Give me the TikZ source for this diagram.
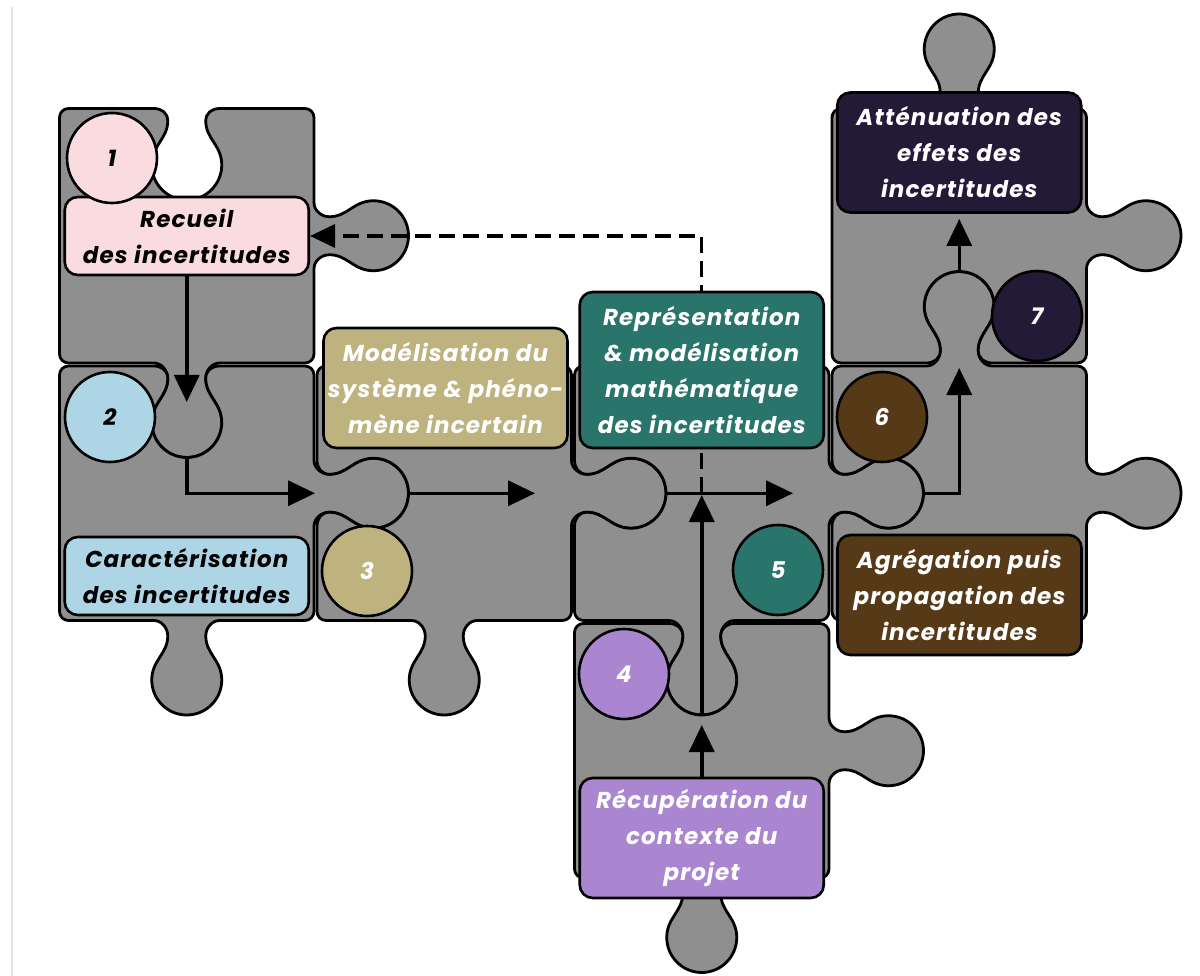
\documentclass[tikz,border=0pt]{standalone}
\usepackage{fontspec}
\setmainfont{Poppins}[LetterSpace=5]
\usepackage{tikz}
\usetikzlibrary{positioning,calc}
\usetikzlibrary{arrows.meta}

\definecolor{piecegray}{RGB}{143,143,143}
\definecolor{framegray}{RGB}{230,230,230}
\definecolor{recpink}{RGB}{249,219,224}
\definecolor{carblue}{RGB}{173,213,230}
\definecolor{modkhaki}{RGB}{190,178,126}
\definecolor{repteal}{RGB}{42,117,107}
\definecolor{recpurple}{RGB}{170,133,208}
\definecolor{agrbrown}{RGB}{86,58,24}
\definecolor{attnavy}{RGB}{35,26,56}

\begin{document}
\begin{tikzpicture}[x=1pt, y=-1pt,
      piece/.style={fill=piecegray, draw=black, line width=2.8pt,
        rounded corners=9pt, line join=round},
      % tab (+1) or blank (-1) on an edge: centre, edge direction, sign
      knob/.style n args={5}{insert path={
          [sharp corners]
          -- ({#1+(#3)*(-33)-(#4)*1.5},{#2+(#4)*(-33)+(#3)*1.5})
          .. controls ({#1+(#3)*(-25)-(#4)*1.5},{#2+(#4)*(-25)+(#3)*1.5})
          and ({#1+(#3)*(-19)+(#4)*(#5)*6},{#2+(#4)*(-19)-(#3)*(#5)*6})
          .. ({#1+(#3)*(-19)+(#4)*(#5)*14},{#2+(#4)*(-19)-(#3)*(#5)*14})
          .. controls ({#1+(#3)*(-19)+(#4)*(#5)*32},{#2+(#4)*(-19)-(#3)*(#5)*32})
          and ({#1+(#3)*(-35)+(#4)*(#5)*38},{#2+(#4)*(-35)-(#3)*(#5)*38})
          .. ({#1+(#3)*(-35)+(#4)*(#5)*58},{#2+(#4)*(-35)-(#3)*(#5)*58})
          .. controls ({#1+(#3)*(-35)+(#4)*(#5)*77.3},{#2+(#4)*(-35)-(#3)*(#5)*77.3})
          and ({#1+(#3)*(-19.3)+(#4)*(#5)*93},{#2+(#4)*(-19.3)-(#3)*(#5)*93})
          .. ({#1+(#4)*(#5)*93},{#2-(#3)*(#5)*93})
          .. controls ({#1+(#3)*19.3+(#4)*(#5)*93},{#2+(#4)*19.3-(#3)*(#5)*93})
          and ({#1+(#3)*35+(#4)*(#5)*77.3},{#2+(#4)*35-(#3)*(#5)*77.3})
          .. ({#1+(#3)*35+(#4)*(#5)*58},{#2+(#4)*35-(#3)*(#5)*58})
          .. controls ({#1+(#3)*35+(#4)*(#5)*38},{#2+(#4)*35-(#3)*(#5)*38})
          and ({#1+(#3)*19+(#4)*(#5)*32},{#2+(#4)*19-(#3)*(#5)*32})
          .. ({#1+(#3)*19+(#4)*(#5)*14},{#2+(#4)*19-(#3)*(#5)*14})
          .. controls ({#1+(#3)*19+(#4)*(#5)*6},{#2+(#4)*19-(#3)*(#5)*6})
          and ({#1+(#3)*25-(#4)*1.5},{#2+(#4)*25+(#3)*1.5})
          .. ({#1+(#3)*33-(#4)*1.5},{#2+(#4)*33+(#3)*1.5})
          [rounded corners=9pt]
        }},
      box/.style={draw, line width=2.6pt, rounded corners=13pt,
        minimum width=244pt, align=center, inner sep=0pt,
        font=\bfseries\itshape\fontsize{23}{36}\selectfont},
      num/.style={circle, draw, line width=2.6pt, minimum size=90pt,
        inner sep=0pt, font=\bfseries\itshape\fontsize{23}{26}\selectfont},
      arr/.style={line width=3.5pt, -{Triangle[length=27pt,width=25pt]}},
      back/.style={line width=3.2pt, dash pattern=on 16pt off 8pt,
        -{Triangle[length=25pt,width=23pt]}}
      ]
    \useasboundingbox (0,0) rectangle (1200,976);
    \draw[framegray, line width=1.5pt] (12,7) -- (12,976);

    % pieces
    \draw[piece] (59.5,108.5) [knob={186.75}{107}{1}{0}{-1}] -- (314,108.5)
      [knob={315.5}{235.75}{0}{1}{1}] -- (314,363)
      [knob={186.75}{364.5}{-1}{0}{1}] -- (59.5,363) -- cycle;
    \draw[piece] (59.5,366) [knob={186.75}{364.5}{1}{0}{-1}] -- (314,366)
      [knob={315.5}{493.25}{0}{1}{1}] -- (314,620.5)
      [knob={186.75}{622}{-1}{0}{1}] -- (59.5,620.5) -- cycle;
    \draw[piece] (317,366) -- (571.5,366)
      [knob={573}{493.25}{0}{1}{1}] -- (571.5,620.5)
      [knob={444.25}{622}{-1}{0}{1}] -- (317,620.5)
      [knob={315.5}{493.25}{0}{-1}{-1}] -- cycle;
    \draw[piece] (574.5,366) -- (829,366)
      [knob={830.5}{493.25}{0}{1}{1}] -- (829,620.5)
      [knob={701.75}{622}{-1}{0}{1}] -- (574.5,620.5)
      [knob={573}{493.25}{0}{-1}{-1}] -- cycle;
    \draw[piece] (574.5,623.5) [knob={701.75}{622}{1}{0}{-1}] -- (829,623.5)
      [knob={830.5}{750.75}{0}{1}{1}] -- (829,878)
      [knob={701.75}{879.5}{-1}{0}{1}] -- (574.5,878) -- cycle;
    \draw[piece] (832,366) [knob={959.25}{364.5}{1}{0}{1}] -- (1086.5,366)
      [knob={1088}{493.25}{0}{1}{1}] -- (1086.5,620.5) -- (832,620.5)
      [knob={830.5}{493.25}{0}{-1}{-1}] -- cycle;
    \draw[piece] (832,108.5) [knob={959.25}{107}{1}{0}{1}] -- (1086.5,108.5)
      [knob={1088}{235.75}{0}{1}{1}] -- (1086.5,363)
      [knob={959.25}{364.5}{-1}{0}{-1}] -- (832,363) -- cycle;

    \coordinate (t1) at (186.75,402);
    \coordinate (k2) at (186.75,457.5);
    \coordinate (t2) at (315,493.25);
    \coordinate (k3) at (408.5,493.25);
    \coordinate (t3) at (535,493.25);
    \coordinate (k4) at (666,493.25);
    \coordinate (t4) at (793,493.25);
    \coordinate (j4) at (701.75,493.25);
    \coordinate (t5) at (701.75,725);
    \coordinate (k6) at (701.75,715);
    \coordinate (t6) at (701.75,495);
    \coordinate (k8) at (923.5,493.25);
    \coordinate (t8) at (959.25,368);
    \coordinate (k9) at (959.25,271.5);
    \coordinate (t9) at (959.25,219);

    \node (rec) [box, fill=recpink, minimum height=78pt] at (186.75,236)
      {Recueil\\des incertitudes};
    \node (car) [box, fill=carblue, minimum height=78pt] at (186.75,576)
      {Caractérisation\\des incertitudes};

    \draw[back] (j4) |- (rec.east);
    \draw[arr] (rec) -- (t1);
    \draw[arr] (k2) |- (t2);
    \draw[arr] (k3) -- (t3);
    \draw[arr] (k4) -- (t4);
    \draw[arr] (k6) -- (t6);
    \draw[arr] (k8) -| (t8);
    \draw[arr] (k9) -- (t9);

    \node (mod) [box, fill=modkhaki, text=white, minimum height=120pt]
      at (445.5,388) {Modélisation du\\système \& phéno-\\mène incertain};
    \node (rep) [box, fill=repteal, text=white, minimum height=156pt]
      at (701.75,370) {Représentation\\\& modélisation\\mathématique\\des incertitudes};
    \node (recup) [box, fill=recpurple, text=white, minimum height=120pt]
      at (701.75,838) {Récupération du\\contexte du\\projet};
    \node (agr) [box, fill=agrbrown, text=white, minimum height=120pt]
      at (959.5,595) {Agrégation puis\\propagation des\\incertitudes};
    \node (att) [box, fill=attnavy, text=white, minimum height=120pt]
      at (959.25,152.5) {Atténuation des\\effets des\\incertitudes};
    \draw[arr] (recup) -- (t5);

    \node (n1) [num, fill=recpink] at (112,158) {1};
    \node (n2) [num, fill=carblue] at (110,417) {2};
    \node (n3) [num, fill=modkhaki, text=white] at (367,571) {3};
    \node (n4) [num, fill=recpurple, text=white] at (624,674) {4};
    \node (n5) [num, fill=repteal, text=white] at (778,570) {5};
    \node (n6) [num, fill=agrbrown, text=white] at (882,417) {6};
    \node (n7) [num, fill=attnavy, text=white] at (1037,316) {7};
  \end{tikzpicture}
\end{document}
